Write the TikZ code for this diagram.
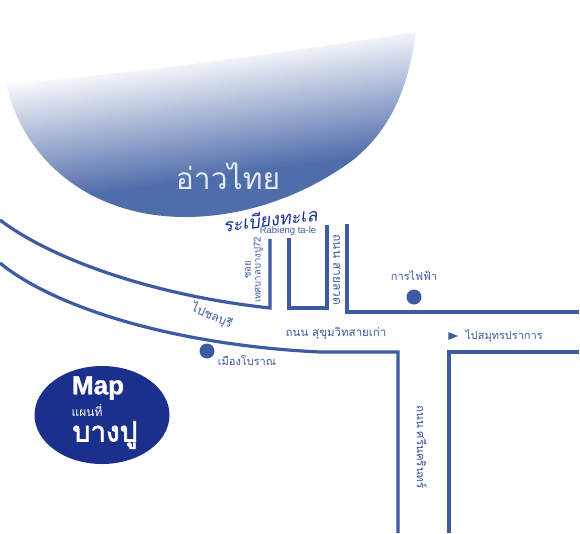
\documentclass[tikz,border=0pt]{standalone}
\usepackage{fontspec}
\setmainfont{Liberation Sans}
\newfontfamily\thaifont[Script=Thai]{Loma}
\newfontfamily\thaiheavy[Script=Thai,FakeBold=2.5]{Loma}
\newfontfamily\mapheavy[FakeBold=1.2]{Liberation Sans Bold}
\usetikzlibrary{positioning,shapes.geometric}
\definecolor{roadblue}{HTML}{3F5AA5}
\definecolor{bayblue}{HTML}{4F6CAB}
\definecolor{mapblue}{HTML}{1B2F8C}
\tikzset{
    road/.style={draw=roadblue, line width=3.2pt, line cap=butt, line join=miter},
    label/.style={text=roadblue, inner sep=0pt, font=\thaifont\fontsize{11}{11}\selectfont},
    spot/.style={circle, fill=roadblue, minimum size=15pt, inner sep=0pt}
}
\begin{document}
\begin{tikzpicture}[x=1pt, y=-1pt]
    \useasboundingbox (0,0) rectangle (580,533);

    % Bay
    \begin{scope}
        \clip (6,84) .. controls (150,72) and (300,50) .. (416,32)
            .. controls (408,90) and (390,130) .. (353,160)
            .. controls (310,192) and (250,217) .. (185,217)
            .. controls (95,217) and (25,165) .. (6,84) -- cycle;
        \begin{scope}[transform canvas={rotate around={8:(210,118)}}]
            \shade [top color=white, bottom color=bayblue] (-100,52) rectangle (520,178);
            \fill [bayblue] (-100,177.5) rectangle (520,300);
        \end{scope}
    \end{scope}
    \node (bay) at (228,176) {\textcolor{white!85!bayblue}{\thaifont\fontsize{30}{30}\selectfont อ่าวไทย}};

    % Roads, upper side
    \draw [road] (0,220) .. controls (50,258) and (150,295) .. (270,308) -- (270,239);
    \draw [road] (289,238) -- (289,308) -- (327,308) -- (327,225);
    \draw [road] (347,224) -- (347,312) -- (579,312);
    % Roads, lower side
    \draw [road] (0,263) .. controls (55,308) and (175,345) .. (320,352) -- (398,352) -- (398,533);
    \draw [road] (449,533) -- (449,352) -- (579,352);

    % Labels
    \node [label, text=mapblue, rotate=7, font=\thaifont\itshape\fontsize{18}{18}\selectfont] (resort) at (270,219) {ระเบียงทะเล};
    \node [label, font=\fontsize{9.5}{9.5}\selectfont] (resorten) at (288,231) {Rabieng ta-le};
    \node [label, rotate=90, align=center, font=\thaifont\fontsize{9.5}{10}\selectfont] (soi) at (254,270) {ซอย\\เทศบาลบางปู72};
    \node [label, rotate=-90, font=\thaifont\fontsize{12}{12}\selectfont] (sailuat) at (337,270) {ถนน สายลวด};
    \node [label, rotate=-24, font=\thaifont\fontsize{12}{12}\selectfont] (chonburi) at (212,316) {ไปชลบุรี};
    \node [label, font=\thaifont\fontsize{11.5}{11.5}\selectfont] (oldroad) at (336,333) {ถนน สุขุมวิทสายเก่า};
    \node [label] (ancient) at (247,361) {เมืองโบราณ};
    \node [label] (power) at (414,276) {การไฟฟ้า};
    \node [label] (samut) at (504,336) {ไปสมุทรปราการ};
    \node [label, rotate=-90, font=\thaifont\fontsize{11.5}{11.5}\selectfont] (srinakarin) at (422,447) {ถนน ศรีนครินทร์};
    \node [spot] (powerdot) at (414,297) {};
    \node [spot] (ancientdot) at (207,351) {};
    \node [isosceles triangle, fill=roadblue, inner sep=0pt, minimum height=8pt, minimum width=8pt] (arrow) at (451,336) {};

    % Map badge
    \node [ellipse, fill=mapblue, minimum width=135pt, minimum height=98pt, inner sep=0pt] (badge) at (102,415) {};
    \node [text=white, font=\mapheavy\fontsize{26}{26}\selectfont, inner sep=0pt] (maptitle) at (98,388) {Map};
    \node [text=white, inner sep=0pt, font=\thaifont\fontsize{12}{12}\selectfont] (mapsub) at (87,410) {แผนที่};
    \node [text=white, inner sep=0pt, font=\thaiheavy\fontsize{28}{28}\selectfont] (maptown) at (105,435) {บางปู};
\end{tikzpicture}
\end{document}
